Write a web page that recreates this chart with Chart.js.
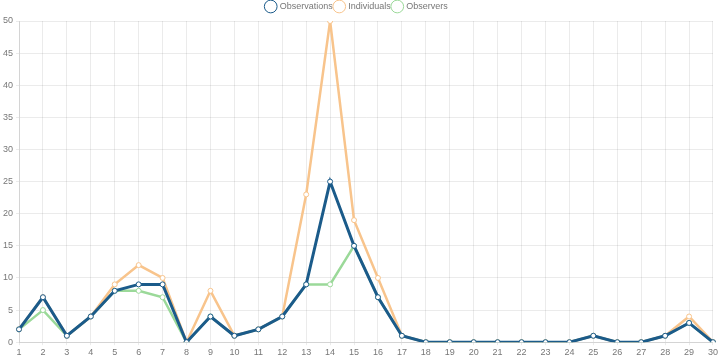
<!DOCTYPE html>
<html>
<head>
<meta charset="utf-8">
<script src="https://cdn.jsdelivr.net/npm/chart.js@4/dist/chart.umd.min.js"></script>
<style>
  html, body { margin: 0; padding: 0; background: #fff; }
  #wrap { width: 720px; height: 360px; }
</style>
</head>
<body>
<div id="wrap"><canvas id="chart"></canvas></div>
<script>
// Daily counts, days 1..30
const days = Array.from({ length: 30 }, (_, i) => String(i + 1));

const observations = [2, 7, 1, 4, 8, 9, 9, 0, 4, 1, 2, 4, 9, 25, 15, 7, 1, 0, 0, 0, 0, 0, 0, 0, 1, 0, 0, 1, 3, 0];
const individuals = [2, 7, 1, 4, 9, 12, 10, 0, 8, 1, 2, 4, 23, 50, 19, 10, 1, 0, 0, 0, 0, 0, 0, 0, 1, 0, 0, 1, 4, 0];
const observers = [2, 5, 1, 4, 8, 8, 7, 0, 4, 1, 2, 4, 9, 9, 15, 7, 1, 0, 0, 0, 0, 0, 0, 0, 1, 0, 0, 1, 3, 0];

const COLORS = {
  observations: "#1b5b8a",
  individuals: "#f8c48c",
  observers: "#9bd999",
  grid: "rgba(0, 0, 0, 0.08)",
  text: "#777",
};

const FONT = { size: 9, family: "'Liberation Sans', Arial, sans-serif" };

function series(label, data, color, width) {
  return {
    label,
    data,
    borderColor: color,
    backgroundColor: "#fff",
    pointBackgroundColor: "#fff",
    pointBorderColor: color,
    pointRadius: 2.5,
    pointBorderWidth: 1,
    borderWidth: width,
    tension: 0,
    fill: false,
  };
}

new Chart(document.getElementById("chart"), {
  type: "line",
  data: {
    labels: days,
    datasets: [
      series("Observations", observations, COLORS.observations, 3),
      series("Individuals", individuals, COLORS.individuals, 2.5),
      series("Observers", observers, COLORS.observers, 2.5),
    ],
  },
  options: {
    responsive: true,
    maintainAspectRatio: false,
    animation: false,
    layout: { padding: { left: 0, right: 6, top: 0, bottom: 0 } },
    plugins: {
      legend: {
        labels: {
          usePointStyle: true,
          pointStyle: "circle",
          boxWidth: 12,
          boxHeight: 12,
          padding: 2,
          color: COLORS.text,
          font: FONT,
        },
      },
      tooltip: { enabled: false },
    },
    scales: {
      x: {
        grid: { color: COLORS.grid, tickLength: 3 },
        ticks: { color: COLORS.text, font: FONT, maxRotation: 0, padding: 2 },
      },
      y: {
        min: 0,
        max: 50,
        grid: { color: COLORS.grid, tickLength: 3 },
        ticks: { stepSize: 5, color: COLORS.text, font: FONT, padding: 3 },
      },
    },
  },
});
</script>
</body>
</html>
